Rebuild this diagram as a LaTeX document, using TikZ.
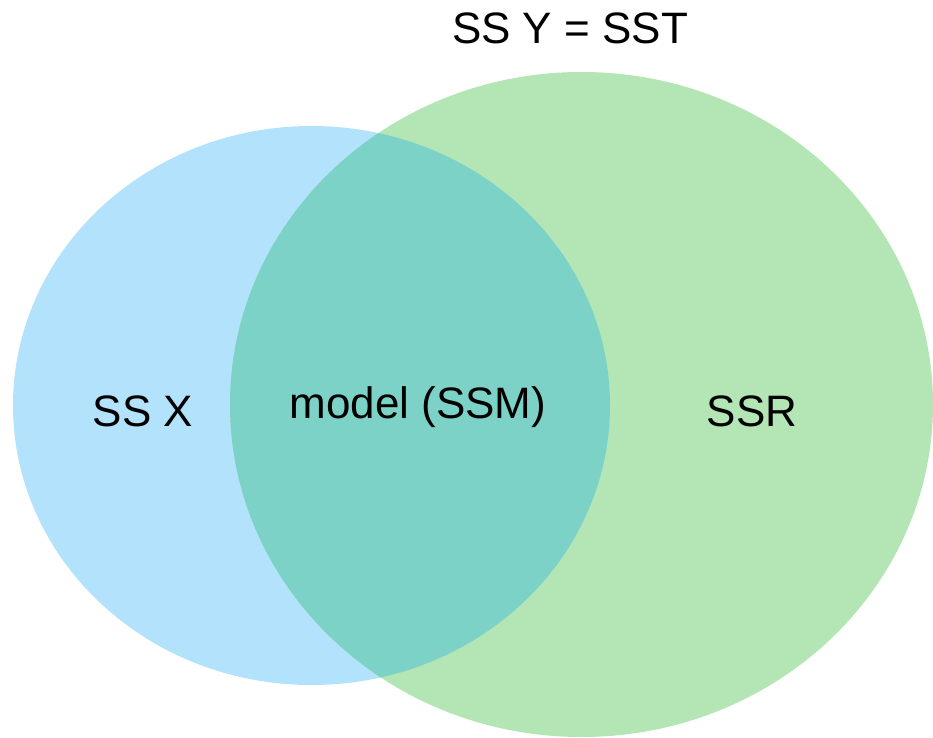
\documentclass[tikz,border=0pt]{standalone}
\usepackage{xcolor}
\usepackage{fontspec}
\setmainfont{Liberation Sans}
\usepackage{tikz}

\definecolor{ssxblue}{RGB}{179,226,252}
\definecolor{ssyGreen}{RGB}{179,230,180}
\definecolor{ssmTeal}{RGB}{125,210,200}

\begin{document}
\begin{tikzpicture}[x=1pt,y=1pt,font=\fontsize{44}{52}\selectfont]
            \useasboundingbox (0,0) rectangle (933,737);

            % the two sums of squares
            \fill[ssxblue] (311.5,331.5) ellipse [x radius=298.5, y radius=279.5];
            \fill[ssyGreen] (581.5,332.5) ellipse [x radius=351.5, y radius=332.5];
            \begin{scope}
            \clip (311.5,331.5) ellipse [x radius=298.5, y radius=279.5];
            \fill[ssmTeal] (581.5,332.5) ellipse [x radius=351.5, y radius=332.5];
            \end{scope}

            \node[draw=none] (sst) at (570, 709) {SS Y = SST};
            \node[draw=none] (ssx) at (143, 326) {SS X};
            \node[draw=none] (ssm) at (418, 330) {model (SSM)};
            \node[draw=none] (ssr) at (752, 326) {SSR};

            \end{tikzpicture}
\end{document}
